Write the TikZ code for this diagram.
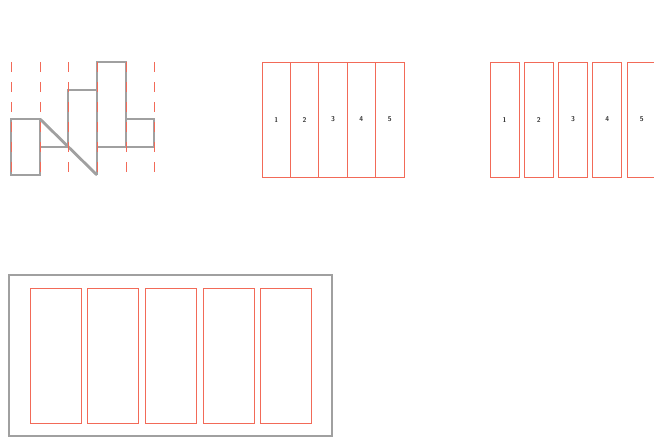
\documentclass[tikz,border=0pt]{standalone}
\usepackage{tikz}
\usetikzlibrary{positioning}
\definecolor{PanelRed}{HTML}{F26A58}
\definecolor{PanelGrey}{HTML}{A0A0A0}

\begin{document}
\begin{tikzpicture}[
    x=1pt, y=-1pt,
    cell/.style={
      rectangle, draw=PanelRed, line width=1pt,
      minimum width=#1, inner sep=0pt, outer sep=0pt,
      font=\sffamily\scriptsize\bfseries, text=black!80
    },
    guide/.style={PanelRed, line width=1pt, dash pattern=on 10pt off 10pt},
    outline/.style={PanelGrey, line width=2.8pt}
  ]
    \useasboundingbox (0,0) rectangle (654,437);

    % stepped outline with guides
    \draw[outline] (11,119) rectangle (40,175);
    \draw[outline] (40,119) -- (97,175);
    \draw[outline] (40,147) -- (68,147) -- (68,90) -- (97,90);
    \draw[outline] (97,175) -- (97,62) -- (126,62) -- (126,147);
    \draw[outline] (97,147) -- (154,147) -- (154,119) -- (126,119);
    \foreach \gx in {11,40,68,97,126,154}
      \draw[guide] (\gx,62) -- (\gx,177);

    % joined cells
    \foreach \i in {1,...,5}
      \node[cell=28.4pt, minimum height=115pt] (joined\i)
        at ({262+28.4*(\i-0.5)},119.5) {\i};

    % spaced cells
    \foreach \i in {1,...,5}
      \node[cell=29pt, minimum height=115pt] (spaced\i)
        at ({504.5+34.3*(\i-1)},119.5) {\i};

    % framed cells
    \node[rectangle, draw=PanelGrey, line width=1.2pt,
      minimum width=323pt, minimum height=161pt,
      inner sep=0pt] (frame) at (170.5,355.5) {};
    \foreach \i in {1,...,5}
      \node[cell=51pt, minimum height=135pt] (framed\i)
        at ({55.5+57.7*(\i-1)},355.5) {};
  \end{tikzpicture}
\end{document}
